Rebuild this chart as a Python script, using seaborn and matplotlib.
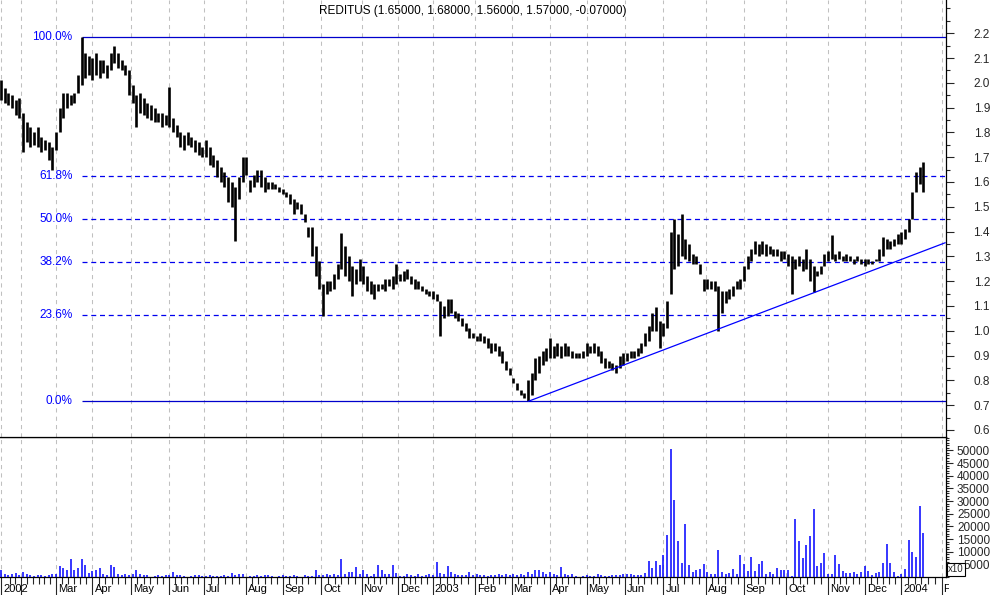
import numpy as np
import matplotlib
matplotlib.use("Agg")
import matplotlib.pyplot as plt
import matplotlib.transforms as mtransforms
from matplotlib.ticker import MultipleLocator, FixedLocator, FuncFormatter
import seaborn as sns

# ---------------- data ----------------
title = "REDITUS (1.65000, 1.68000, 1.56000, 1.57000, -0.07000)"
bar_step = 2  # trading days per drawn bar

high = [
    2.01, 1.98, 1.96, 1.95, 1.93, 1.94, 1.88, 1.84, 1.82, 1.80,
    1.82, 1.78, 1.77, 1.76, 1.74, 1.80, 1.90, 1.96, 1.96, 1.95,
    1.96, 2.03, 2.185, 2.12, 2.11, 2.10, 2.12, 2.09, 2.09, 2.07,
    2.12, 2.15, 2.12, 2.09, 2.07, 2.05, 1.99, 1.95, 1.96, 1.94,
    1.92, 1.91, 1.90, 1.88, 1.88, 1.87, 1.985, 1.86, 1.83, 1.80,
    1.79, 1.80, 1.78, 1.77, 1.76, 1.74, 1.77, 1.74, 1.71, 1.69,
    1.66, 1.64, 1.62, 1.60, 1.58, 1.62, 1.70, 1.70, 1.61, 1.63,
    1.65, 1.65, 1.62, 1.60, 1.60, 1.59, 1.58, 1.57, 1.56, 1.55,
    1.53, 1.52, 1.51, 1.47, 1.42, 1.42, 1.34, 1.28, 1.19, 1.20,
    1.20, 1.23, 1.27, 1.395, 1.34, 1.30, 1.26, 1.25, 1.29, 1.26,
    1.22, 1.20, 1.19, 1.19, 1.19, 1.21, 1.21, 1.22, 1.27, 1.23,
    1.24, 1.25, 1.22, 1.21, 1.20, 1.18, 1.17, 1.16, 1.16, 1.15,
    1.12, 1.10, 1.13, 1.13, 1.08, 1.07, 1.05, 1.03, 1.01, 0.99,
    0.98, 0.99, 0.98, 0.97, 0.95, 0.95, 0.94, 0.92, 0.88, 0.85,
    0.81, 0.79, 0.76, 0.75, 0.80, 0.83, 0.89, 0.90, 0.92, 0.93,
    0.97, 0.94, 0.95, 0.94, 0.95, 0.94, 0.92, 0.91, 0.91, 0.92,
    0.95, 0.94, 0.95, 0.94, 0.92, 0.89, 0.88, 0.87, 0.86, 0.90,
    0.91, 0.91, 0.92, 0.92, 0.93, 0.95, 0.99, 1.02, 1.07, 1.095,
    1.04, 1.03, 1.12, 1.40, 1.45, 1.39, 1.47, 1.37, 1.35, 1.31,
    1.30, 1.27, 1.21, 1.21, 1.20, 1.20, 1.18, 1.16, 1.16, 1.17,
    1.18, 1.20, 1.21, 1.26, 1.30, 1.33, 1.36, 1.35, 1.36, 1.35,
    1.34, 1.33, 1.33, 1.32, 1.32, 1.31, 1.30, 1.29, 1.30, 1.29,
    1.33, 1.29, 1.26, 1.24, 1.26, 1.31, 1.32, 1.385, 1.31, 1.32,
    1.30, 1.31, 1.30, 1.29, 1.30, 1.29, 1.29, 1.29, 1.28, 1.29,
    1.33, 1.38, 1.37, 1.36, 1.37, 1.39, 1.40, 1.41, 1.45, 1.56,
    1.64, 1.66, 1.68,
]

low = [
    1.93, 1.92, 1.91, 1.90, 1.87, 1.86, 1.72, 1.76, 1.74, 1.75,
    1.74, 1.72, 1.73, 1.69, 1.65, 1.73, 1.80, 1.86, 1.90, 1.91,
    1.92, 1.96, 1.99, 2.02, 2.03, 2.01, 2.03, 2.02, 2.04, 2.02,
    2.05, 2.08, 2.06, 2.05, 2.03, 1.95, 1.92, 1.82, 1.88, 1.87,
    1.86, 1.85, 1.84, 1.84, 1.82, 1.83, 1.82, 1.80, 1.78, 1.74,
    1.73, 1.75, 1.74, 1.72, 1.71, 1.70, 1.70, 1.67, 1.66, 1.62,
    1.60, 1.58, 1.52, 1.50, 1.36, 1.53, 1.60, 1.63, 1.56, 1.58,
    1.60, 1.58, 1.56, 1.57, 1.57, 1.57, 1.56, 1.55, 1.54, 1.51,
    1.47, 1.49, 1.47, 1.44, 1.38, 1.30, 1.22, 1.17, 1.06, 1.15,
    1.16, 1.17, 1.21, 1.25, 1.22, 1.20, 1.14, 1.19, 1.20, 1.19,
    1.16, 1.15, 1.13, 1.16, 1.17, 1.16, 1.18, 1.17, 1.19, 1.20,
    1.20, 1.21, 1.19, 1.17, 1.17, 1.16, 1.15, 1.14, 1.13, 1.12,
    0.98, 1.05, 1.06, 1.07, 1.05, 1.04, 1.02, 1.00, 0.97, 0.97,
    0.96, 0.96, 0.95, 0.93, 0.91, 0.92, 0.90, 0.87, 0.84, 0.82,
    0.79, 0.76, 0.74, 0.73, 0.715, 0.74, 0.80, 0.83, 0.86, 0.88,
    0.89, 0.89, 0.90, 0.89, 0.90, 0.90, 0.89, 0.89, 0.89, 0.89,
    0.90, 0.91, 0.91, 0.90, 0.87, 0.85, 0.85, 0.84, 0.83, 0.85,
    0.86, 0.88, 0.89, 0.89, 0.90, 0.91, 0.94, 0.96, 1.00, 1.00,
    0.93, 0.98, 1.01, 1.15, 1.25, 1.26, 1.30, 1.29, 1.28, 1.27,
    1.27, 1.23, 1.16, 1.17, 1.17, 1.16, 1.00, 1.07, 1.11, 1.13,
    1.14, 1.17, 1.17, 1.20, 1.25, 1.28, 1.31, 1.30, 1.31, 1.30,
    1.31, 1.30, 1.30, 1.28, 1.29, 1.26, 1.15, 1.25, 1.26, 1.24,
    1.25, 1.20, 1.155, 1.22, 1.23, 1.26, 1.28, 1.29, 1.28, 1.29,
    1.28, 1.28, 1.28, 1.27, 1.28, 1.27, 1.26, 1.27, 1.27, 1.28,
    1.28, 1.30, 1.33, 1.33, 1.34, 1.35, 1.35, 1.37, 1.40, 1.45,
    1.56, 1.59, 1.56,
]

# volume in thousands (axis shows "x10" multiplier box)
volume_k = [
    2.9, 1.0, 0.8, 1.2, 1.6, 0.6, 2.0, 1.0, 0.6, 0.5,
    0.7, 0.6, 0.5, 0.8, 1.0, 1.3, 4.3, 3.4, 2.7, 7.1,
    2.7, 3.6, 7.1, 4.7, 1.5, 2.2, 2.7, 3.6, 1.0, 0.8,
    4.7, 4.0, 1.0, 0.8, 1.2, 0.9, 1.2, 2.7, 1.0, 0.8,
    0.6, 0.0, 0.5, 0.6, 0.5, 0.9, 0.6, 2.0, 0.8, 0.6,
    0.5, 0.0, 0.5, 0.6, 0.6, 0.4, 0.5, 0.7, 0.5, 0.4,
    0.5, 0.6, 0.4, 1.6, 0.6, 1.0, 1.0, 0.0, 0.5, 0.5,
    0.6, 0.5, 0.6, 0.7, 0.4, 0.0, 0.5, 0.6, 0.5, 0.5,
    0.6, 0.4, 0.0, 0.6, 0.5, 0.5, 2.7, 0.8, 0.6, 1.0,
    0.8, 1.2, 0.9, 7.1, 1.2, 2.0, 2.0, 4.0, 1.0, 2.7,
    1.0, 0.5, 1.0, 4.7, 2.9, 1.0, 1.0, 4.7, 1.5, 0.5,
    0.5, 1.0, 0.6, 0.5, 1.0, 0.5, 0.6, 1.0, 0.8, 6.0,
    1.5, 1.0, 4.3, 1.8, 1.0, 0.8, 0.6, 0.8, 1.8, 0.8,
    1.0, 0.6, 0.8, 0.5, 0.8, 0.6, 1.0, 0.8, 1.2, 0.8,
    1.0, 0.8, 1.0, 0.8, 2.0, 1.0, 2.9, 2.7, 1.8, 1.0,
    2.0, 1.0, 0.8, 4.0, 1.0, 0.6, 1.2, 0.5, 0.0, 0.5,
    0.6, 0.5, 0.5, 1.0, 0.6, 0.5, 0.5, 0.8, 0.7, 0.6,
    1.2, 1.0, 1.0, 0.7, 0.8, 0.6, 1.4, 6.2, 3.4, 6.5,
    4.7, 8.6, 16.4, 50.7, 30.4, 14.4, 5.7, 21.0, 4.7, 2.0,
    2.7, 3.1, 5.0, 2.0, 1.0, 1.2, 10.5, 2.0, 1.0, 1.5,
    3.3, 1.2, 8.6, 5.0, 2.4, 7.9, 2.2, 5.0, 6.2, 1.2,
    1.8, 1.0, 3.6, 2.7, 2.7, 2.7, 0.5, 22.8, 14.4, 7.4,
    12.5, 16.0, 26.8, 4.3, 5.4, 9.3, 1.2, 1.0, 8.6, 5.0,
    2.2, 1.4, 1.4, 1.8, 1.2, 2.0, 4.3, 2.2, 0.8, 1.5,
    2.0, 5.4, 13.2, 5.7, 1.8, 0.5, 1.3, 3.1, 14.8, 9.8,
    7.9, 27.9, 17.2,
]

# month starts as trading-day index, with their labels
month_days = [0, 11, 30, 50, 71, 92, 111, 134, 154, 175, 197, 217, 236,
              259, 279, 300, 320, 341, 362, 385, 406, 429, 452, 472, 492, 514]
month_labels = ["2002", "", "Mar", "Apr", "May", "Jun", "Jul", "Aug", "Sep",
                "Oct", "Nov", "Dec", "2003", "Feb", "Mar", "Apr", "May", "Jun",
                "Jul", "Aug", "Sep", "Oct", "Nov", "Dec", "2004", "Feb"]

fib_levels = [1.0, 0.618, 0.5, 0.382, 0.236, 0.0]
fib_labels = ["100.0%", "61.8%", "50.0%", "38.2%", "23.6%", "0.0%"]

trend_days = [288, 516]
trend_prices = [0.715, 1.355]

price_ticks = [0.6, 0.7, 0.8, 0.9, 1.0, 1.1, 1.2, 1.3, 1.4, 1.5, 1.6, 1.7,
               1.8, 1.9, 2.0, 2.1, 2.2]
volume_ticks_k = [5, 10, 15, 20, 25, 30, 35, 40, 45, 50]

# ---------------- style ----------------
sns.set_style("white")
plt.rcParams["font.family"] = ["Liberation Sans", "DejaVu Sans"]

n = min(len(high), len(low), len(volume_k))
day = np.arange(n) * bar_step
hi = np.array(high[:n])
lo = np.array(low[:n])
vol = np.array(volume_k[:n])

W, H = 994, 595
fig = plt.figure(figsize=(W / 100, H / 100), dpi=100)
fig.patch.set_facecolor("white")

axw = 946 / W
ax_m = fig.add_axes([0, 0, 949 / W, 18 / H])
ax_v = fig.add_axes([0, (H - 577) / H, axw, 140 / H])
ax_p = fig.add_axes([0, (H - 437) / H, axw, 437 / H])

xlim_p = (-0.546, 516.4)
for ax in (ax_p, ax_v):
    ax.set_xlim(*xlim_p)
    ax.set_facecolor("white")
ax_m.set_xlim(xlim_p[0], xlim_p[0] + (xlim_p[1] - xlim_p[0]) * 949 / 946)

ax_p.set_ylim(0.5715, 2.334)
ax_v.set_ylim(0, 55.3)
ax_m.set_ylim(0, 1)
ax_m.axis("off")

grid_kw = dict(color="#c0c0c0", lw=0.75, ls=(0, (4, 4)), zorder=0)
for d in month_days:
    ax_p.axvline(d, **grid_kw)
    ax_v.axvline(d, **grid_kw)

# price bars
ax_p.vlines(day, lo, hi, color="black", lw=1.9, zorder=3)

# fibonacci retracement
f_hi, f_lo = hi.max(), lo.min()
f_start = day[np.argmax(hi)]
for lev, lab in zip(fib_levels, fib_labels):
    val = f_lo + lev * (f_hi - f_lo)
    solid = lev in (0.0, 1.0)
    ax_p.hlines(val, f_start, xlim_p[1], color="#0000cc" if solid else "#0000ee",
                lw=0.9, ls="-" if solid else (0, (4, 3)), zorder=2)
    ax_p.annotate(lab, xy=(f_start, val), xytext=(-9, 0), textcoords="offset pixels",
                  ha="right", va="center", color="#0000ff", fontsize=8.5)

# trend line
sns.lineplot(x=trend_days, y=trend_prices, ax=ax_p, color="#0000ff", lw=0.9,
             zorder=4, legend=False)

ax_p.text(0.5, 1 - 11 / 437, title, transform=ax_p.transAxes, ha="center",
          va="center", fontsize=8.5, color="black")

# volume bars
ax_v.vlines(day, 0, vol, color="#0000ff", lw=1.1, zorder=3)

# spines
for ax in (ax_p, ax_v):
    ax.spines["left"].set_visible(False)
    for s in ("right", "bottom", "top"):
        ax.spines[s].set_visible(True)
        ax.spines[s].set_color("black")
        ax.spines[s].set_linewidth(0.9)
    ax.set_xlabel("")
    ax.set_ylabel("")
    ax.yaxis.tick_right()
ax_p.spines["top"].set_visible(False)

# price y axis
ax_p.yaxis.set_major_locator(FixedLocator(price_ticks))
ax_p.yaxis.set_major_formatter(FuncFormatter(lambda v, p: f"{v:.1f}"))
ax_p.yaxis.set_minor_locator(MultipleLocator(0.05))
ax_p.tick_params(axis="y", which="major", direction="out", length=5.8, width=0.8,
                 pad=25.9, labelsize=8.5, right=True, left=False)
ax_p.tick_params(axis="y", which="minor", direction="out", length=2.9, width=0.8,
                 right=True, left=False)
ax_p.tick_params(axis="x", which="both", bottom=False, labelbottom=False)

# volume y axis
ax_v.yaxis.set_major_locator(FixedLocator(volume_ticks_k))
ax_v.yaxis.set_major_formatter(FuncFormatter(lambda v, p: f"{int(round(v * 1000))}"))
ax_v.yaxis.set_minor_locator(MultipleLocator(1))
ax_v.tick_params(axis="y", which="major", direction="out", length=5.0, width=0.8,
                 pad=26.7, labelsize=8.5, right=True, left=False)
ax_v.tick_params(axis="y", which="minor", direction="out", length=2.2, width=0.8,
                 right=True, left=False)

# month ticks on the bottom
minor_days = []
first_step = (month_days[2] - month_days[1]) / 6
for k in (1, 2):
    minor_days.append(month_days[1] - k * first_step)
for a, b in zip(month_days[1:-1], month_days[2:]):
    minor_days.extend(np.linspace(a, b, 7)[1:-1])
ax_v.xaxis.set_major_locator(FixedLocator(month_days))
ax_v.xaxis.set_minor_locator(FixedLocator(minor_days))
ax_v.tick_params(axis="x", which="major", direction="out", length=13, width=0.8,
                 bottom=True, top=False, labelbottom=False)
ax_v.tick_params(axis="x", which="minor", direction="out", length=5, width=0.8,
                 bottom=True, top=False)

for lbl in ax_p.get_yticklabels() + ax_v.get_yticklabels():
    lbl.set_horizontalalignment("right")

lab_tr = mtransforms.offset_copy(ax_m.transData, fig=fig, x=2, y=0, units="dots")
for d, lab in zip(month_days, month_labels):
    if lab:
        ax_m.text(d, 0.36, lab, transform=lab_tr, ha="left", va="center",
                  fontsize=8, color="black", clip_on=True)

# multiplier box
fig.text(948 / W, 1 - 569.5 / H, "x10", fontsize=7, ha="left", va="center",
         bbox=dict(boxstyle="square,pad=0.12", fc="white", ec="black", lw=0.8))

fig.savefig("out.png", dpi=100, facecolor="white")
